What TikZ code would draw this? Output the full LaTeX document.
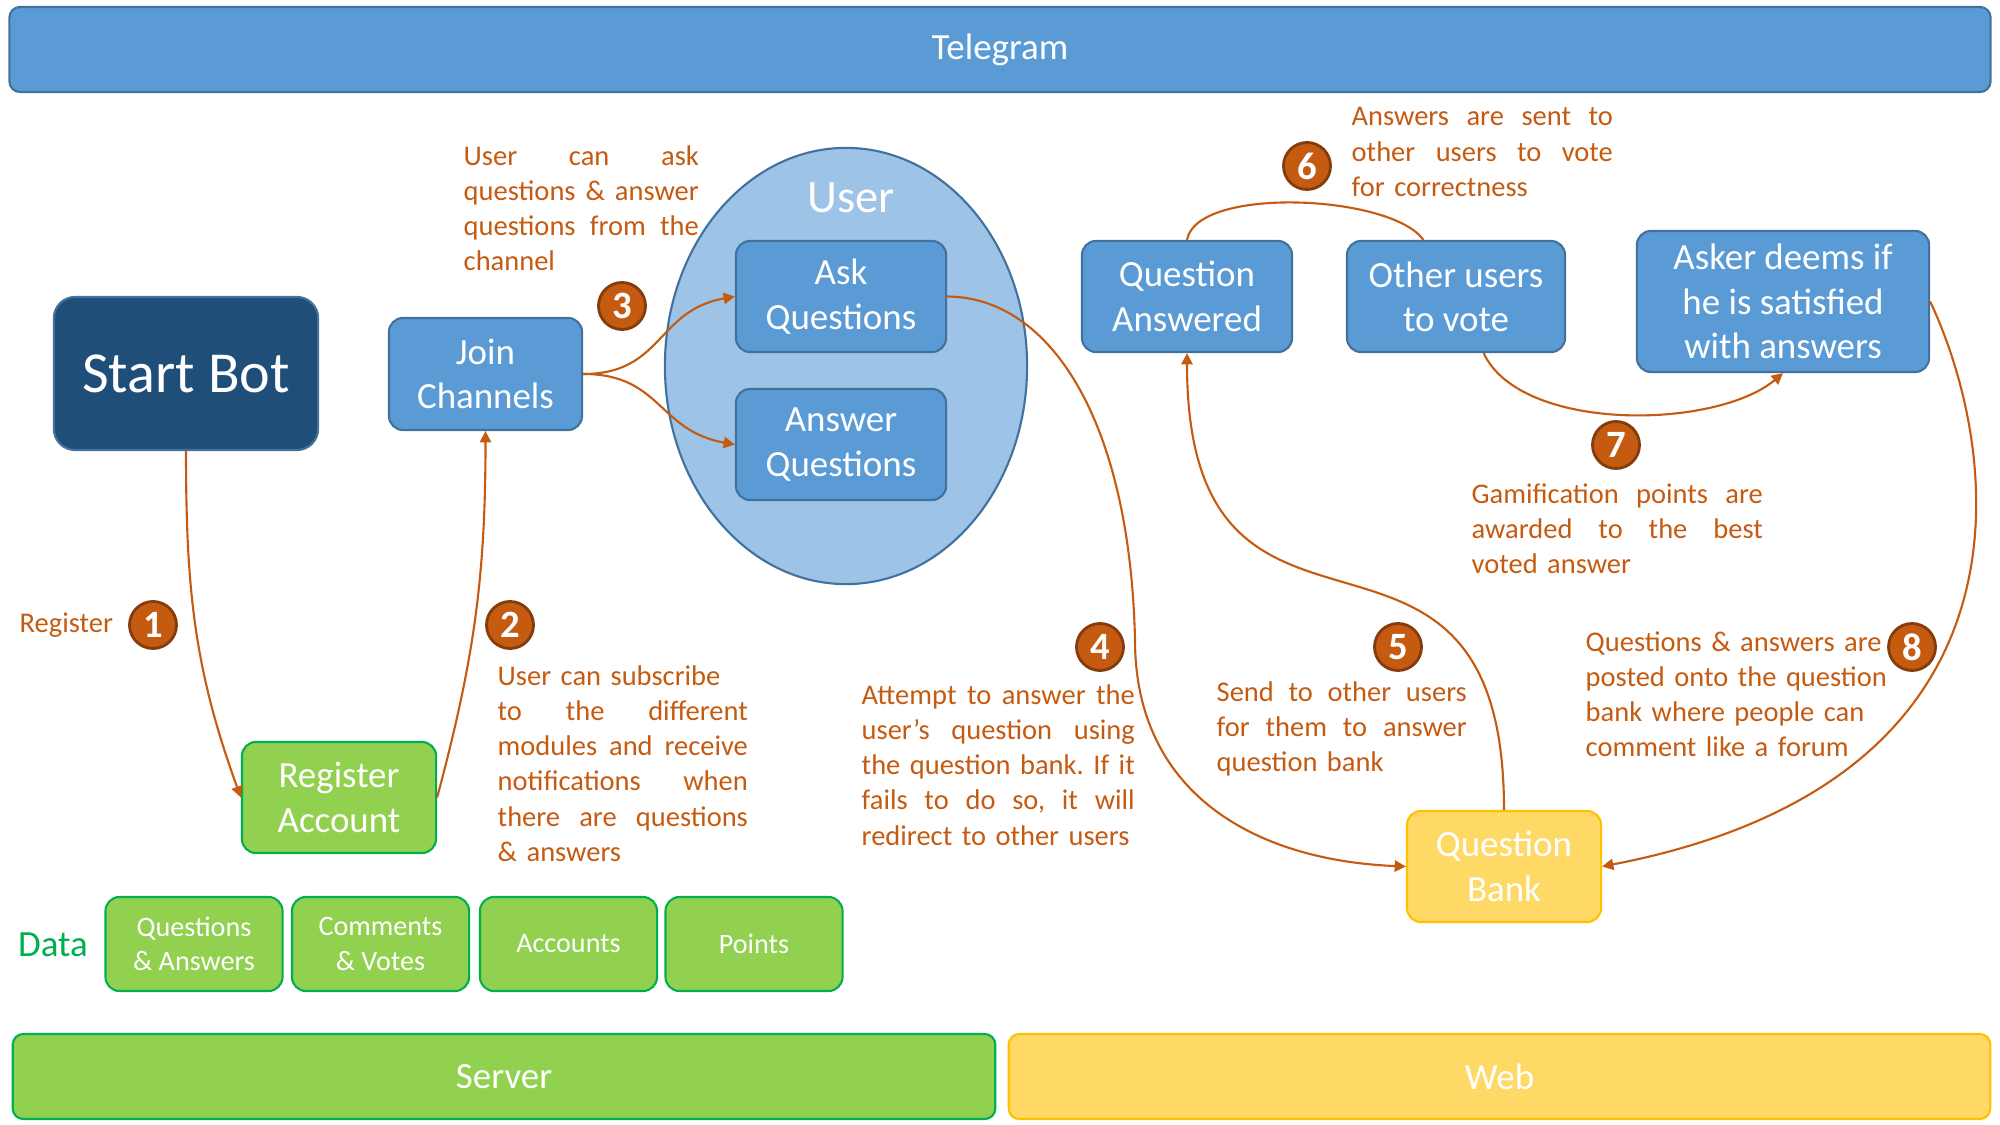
\documentclass[tikz,border=0pt]{standalone}
\usepackage{fontspec}
\setmainfont{Carlito}
\usetikzlibrary{shapes}
\usetikzlibrary{positioning}
\usetikzlibrary{arrows.meta}
\definecolor{tgblue}{HTML}{5B9BD5}
\definecolor{tgline}{HTML}{41719C}
\definecolor{tgdark}{HTML}{1F4E79}
\definecolor{tglight}{HTML}{9DC3E6}
\definecolor{svgreen}{HTML}{92D050}
\definecolor{svline}{HTML}{00B050}
\definecolor{wbyellow}{HTML}{FFD966}
\definecolor{wbline}{HTML}{FFC000}
\definecolor{noteor}{HTML}{C55A11}
\definecolor{noteline}{HTML}{843C0C}
\newcommand{\jline}[1]{\leavevmode\hbox to\hsize{\spaceskip=0.226em plus 1fil\relax #1}}
\tikzset{
    mynodeb/.style = {rectangle, rounded corners=4pt, line width=0.6pt, draw=tgline, fill=tgblue, align=center, text=white, minimum width=2.1cm, minimum height=1.11cm, font=\fontsize{10.5}{12.6}\selectfont},
    mynoded/.style = {rectangle, rounded corners=6pt, line width=0.6pt, draw=tgline, fill=tgdark, align=center, text=white, font=\fontsize{16.5}{20}\selectfont},
    mynodee/.style = {ellipse, line width=0.6pt, draw=tgline, fill=tglight},
    mynodeg/.style = {rectangle, rounded corners=4pt, line width=0.6pt, draw=svline, fill=svgreen, align=center, text=white, minimum width=1.94cm, minimum height=1.11cm, font=\fontsize{10.5}{12.6}\selectfont},
    mynodes/.style = {mynodeg, minimum width=1.77cm, minimum height=0.94cm, font=\fontsize{8}{9.8}\selectfont},
    mynodey/.style = {rectangle, rounded corners=4pt, line width=0.6pt, draw=wbline, fill=wbyellow, align=center, text=white, minimum width=1.94cm, minimum height=1.11cm, font=\fontsize{10.5}{12.6}\selectfont},
    mybarb/.style = {mynodeb, rounded corners=3pt, minimum height=0.85cm},
    mybarg/.style = {mynodeg, rounded corners=3pt, minimum height=0.85cm},
    mybary/.style = {mynodey, rounded corners=3pt, minimum height=0.85cm},
    mynoden/.style = {circle, inner sep=0pt, minimum size=0.47cm, line width=0.8pt, draw=noteline, fill=noteor, text=white, font=\fontsize{11}{13}\selectfont\bfseries},
    mynote/.style = {anchor=north west, inner sep=0pt, align=left, text=noteor, font=\fontsize{8.1}{10}\selectfont\frenchspacing},
    edgen/.style = {line width=0.6pt, noteor},
    edgeo/.style = {-{Triangle[length=3.2pt,width=3.2pt]}, line width=0.6pt, noteor},
}

\begin{document}
\begin{tikzpicture}[x=0.01cm, y=-0.01cm]
  \useasboundingbox (0,0) rectangle (2000,1125);
  % layers
  \node[mybarb, minimum width=19.8cm] (tele) at (1000,49.5) {Telegram};
  \node[mybarg, minimum width=9.82cm] (server) at (504,1076.5) {Server};
  \node[mybary, minimum width=9.81cm] (web) at (1499.5,1076.5) {Web};
  % telegram side
  \node[mynodee, minimum width=3.62cm, minimum height=4.36cm] (user) at (846,366) {};
  \node[text=white, font=\fontsize{13.2}{15}\selectfont] (userlbl) at (851,198) {User};
  \node[mynoded, minimum width=2.64cm, minimum height=1.53cm] (start) at (186,373.5) {Start Bot};
  \node[mynodeb, minimum width=1.93cm, minimum height=1.12cm] (join) at (485.5,374) {Join\\Channels};
  \node[mynodeb] (ask) at (841,296.5) {Ask\\Questions};
  \node[mynodeb] (answer) at (841,444.5) {Answer\\Questions};
  \node[mynodeb] (qa) at (1187,296.5) {Question\\Answered};
  \node[mynodeb, minimum width=2.18cm] (other) at (1456,296.5) {Other users\\to vote};
  \node[mynodeb, minimum width=2.92cm, minimum height=1.41cm] (asker) at (1783,301.5) {Asker deems if\\he is satisfied\\with answers};
  % server and web side
  \node[mynodeg] (reg) at (339,797.5) {Register\\Account};
  \node[mynodey] (qb) at (1504,866.5) {Question\\Bank};
  \node[text=svline, font=\fontsize{10.5}{12}\selectfont] (datalbl) at (53,945) {Data};
  \node[mynodes] (dqa) at (194,944) {Questions\\\& Answers};
  \node[mynodes] (dcv) at (380.5,944) {Comments\\\& Votes};
  \node[mynodes] (dacc) at (568.5,944) {Accounts};
  \node[mynodes] (dpts) at (754,944) {Points};
  % steps
  \node[mynoden] (n1) at (153,625) {1};
  \node[mynoden] (n2) at (510,625) {2};
  \node[mynoden] (n3) at (622,306) {3};
  \node[mynoden] (n4) at (1100,647) {4};
  \node[mynoden] (n5) at (1398,647) {5};
  \node[mynoden] (n6) at (1307,166) {6};
  \node[mynoden] (n7) at (1616,445) {7};
  \node[mynoden] (n8) at (1912,647) {8};
  \node[mynote, anchor=west] (note1) at (19,625) {Register};
  \node[mynote, text width=2.5cm] (note2) at (497,665) {User can subscribe\\\jline{to the different}\\\jline{modules and receive}\\\jline{notifications when}\\\jline{there are questions}\\\& answers};
  \node[mynote, text width=2.35cm] (note3) at (463,145) {\jline{User can ask}\\\jline{questions \& answer}\\\jline{questions from the}\\channel};
  \node[mynote, text width=2.73cm] (note4) at (861,684) {\jline{Attempt to answer the}\\\jline{user’s question using}\\\jline{the question bank. If it}\\\jline{fails to do so, it will}\\redirect to other users};
  \node[mynote, text width=2.5cm] (note5) at (1216,681) {\jline{Send to other users}\\\jline{for them to answer}\\question bank};
  \node[mynote, text width=2.61cm] (note6) at (1351,107) {\jline{Answers are sent to}\\\jline{other users to vote}\\for correctness};
  \node[mynote, text width=2.91cm] (note7) at (1471,483) {\jline{Gamification points are}\\\jline{awarded to the best}\\voted answer};
  \node[mynote, text width=3.3cm] (note8) at (1585,631) {Questions \& answers are\\posted onto the question\\bank where people can\\comment like a forum};
  % flow
  \draw[edgeo] (start.south) to[out=-90, in=110] (reg.west);
  \draw[edgeo] (reg.east) to[out=75, in=-90] (join.south);
  \draw[edgeo] (join.east) to[out=0, in=190, looseness=1.2] (ask.west);
  \draw[edgeo] (join.east) to[out=0, in=170, looseness=1.2] (answer.west);
  \draw[edgeo] (ask.east) .. controls (1050,297) and (1130,420) .. (1135,640)
    .. controls (1135,790) and (1250,860) .. (qb.west);
  \draw[edgeo] (qb.north) to[out=90, in=-90, looseness=1.65] (qa.south);
  \draw[edgen] (qa.north) to[out=80, in=125, looseness=0.6] (other.120);
  \draw[edgeo] (other.-64) to[out=-65, in=-140, looseness=0.75] (asker.south);
  \draw[edgeo] (asker.east) .. controls (2000,450) and (2050,780) .. (qb.east);
\end{tikzpicture}
\end{document}
